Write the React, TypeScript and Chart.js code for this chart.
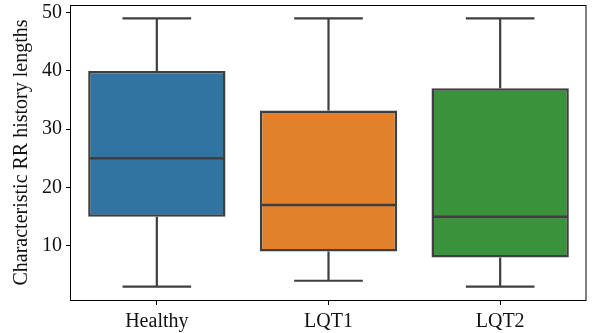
import React, { useEffect, useRef } from "react";
import { Chart, registerables } from "chart.js";

Chart.register(...registerables);

const categories = ["Healthy", "LQT1", "LQT2"];
const whiskerLow = [3, 4, 3];
const q1 = [15, 9, 8];
const median = [25, 17, 15];
const q3 = [40, 33.2, 37];
const whiskerHigh = [49, 49, 49];
const yTicks = [10, 20, 30, 40, 50];
const colors = ["#3274a1", "#e1812c", "#3a923a"];

const LINE = "#3f3f3f";
const FONT = "'Liberation Serif', 'Times New Roman', serif";

const boxPlugin = {
  id: "boxExtras",
  beforeDatasetsDraw(chart: any) {
    const { ctx } = chart;
    const xs = chart.scales.x;
    const ys = chart.scales.y;
    const cat = (xs.right - xs.left) / categories.length;
    ctx.save();
    ctx.strokeStyle = LINE;
    ctx.lineWidth = 2.2;
    categories.forEach((_, i) => {
      const cx = xs.getPixelForValue(i);
      const capHalf = cat * 0.2;
      ctx.beginPath();
      ctx.moveTo(cx, ys.getPixelForValue(whiskerLow[i]));
      ctx.lineTo(cx, ys.getPixelForValue(q1[i]));
      ctx.moveTo(cx, ys.getPixelForValue(q3[i]));
      ctx.lineTo(cx, ys.getPixelForValue(whiskerHigh[i]));
      ctx.moveTo(cx - capHalf, ys.getPixelForValue(whiskerLow[i]));
      ctx.lineTo(cx + capHalf, ys.getPixelForValue(whiskerLow[i]));
      ctx.moveTo(cx - capHalf, ys.getPixelForValue(whiskerHigh[i]));
      ctx.lineTo(cx + capHalf, ys.getPixelForValue(whiskerHigh[i]));
      ctx.stroke();
    });
    ctx.restore();
  },
  afterDatasetsDraw(chart: any) {
    const { ctx } = chart;
    const xs = chart.scales.x;
    const ys = chart.scales.y;
    const cat = (xs.right - xs.left) / categories.length;
    ctx.save();
    ctx.strokeStyle = LINE;
    ctx.lineWidth = 2.5;
    categories.forEach((_, i) => {
      const cx = xs.getPixelForValue(i);
      const half = cat * 0.4;
      const y = ys.getPixelForValue(median[i]);
      ctx.beginPath();
      ctx.moveTo(cx - half + 1, y);
      ctx.lineTo(cx + half - 1, y);
      ctx.stroke();
    });
    const a = chart.chartArea;
    ctx.strokeStyle = "#000";
    ctx.lineWidth = 1;
    ctx.strokeRect(a.left - 0.5, a.top + 0.5, a.right - a.left + 0.5, a.bottom - a.top);
    ctx.restore();
  },
};

export default function App() {
  const ref = useRef<HTMLCanvasElement>(null);
  useEffect(() => {
    if (!ref.current) return;
    const chart = new Chart(ref.current, {
      type: "bar",
      data: {
        labels: categories,
        datasets: [
          {
            data: categories.map((_, i) => [q1[i], q3[i]]) as any,
            backgroundColor: colors,
            borderColor: LINE,
            borderWidth: 2.5,
            borderSkipped: false,
            categoryPercentage: 1,
            barPercentage: 0.8,
          },
        ],
      },
      options: {
        responsive: false,
        animation: false,
        layout: { padding: { top: 5, right: 6, left: 0, bottom: 0 } },
        plugins: { legend: { display: false }, tooltip: { enabled: false } },
        scales: {
          x: {
            afterFit: (s: any) => {
              s.height = 33;
              s.paddingLeft = 0;
              s.paddingRight = 0;
            },
            grid: { offset: false, drawOnChartArea: false, drawTicks: true, tickLength: 5, color: "#000" },
            border: { display: false },
            ticks: { color: "#111", font: { family: FONT, size: 20 }, padding: 5 },
          },
          y: {
            min: 0.7,
            max: 51.3,
            afterFit: (s: any) => {
              s.width = 71;
              s.paddingTop = 0;
              s.paddingBottom = 0;
            },
            afterBuildTicks: (s: any) => {
              s.ticks = yTicks.map((v) => ({ value: v }));
            },
            grid: { drawOnChartArea: false, drawTicks: true, tickLength: 5, color: "#000" },
            border: { display: false },
            ticks: { color: "#111", font: { family: FONT, size: 20 }, padding: 4 },
            title: {
              display: true,
              text: "Characteristic RR history lengths",
              color: "#111",
              font: { family: FONT, size: 20 },
              padding: { top: 10, bottom: 0 },
            },
          },
        },
      },
      plugins: [boxPlugin],
    });
    return () => chart.destroy();
  }, []);
  return (
    <div style={{ position: "absolute", left: 0, top: 0, width: 592, height: 333, background: "#fff" }}>
      <canvas ref={ref} width={592} height={333} style={{ width: 592, height: 333 }} />
    </div>
  );
}
